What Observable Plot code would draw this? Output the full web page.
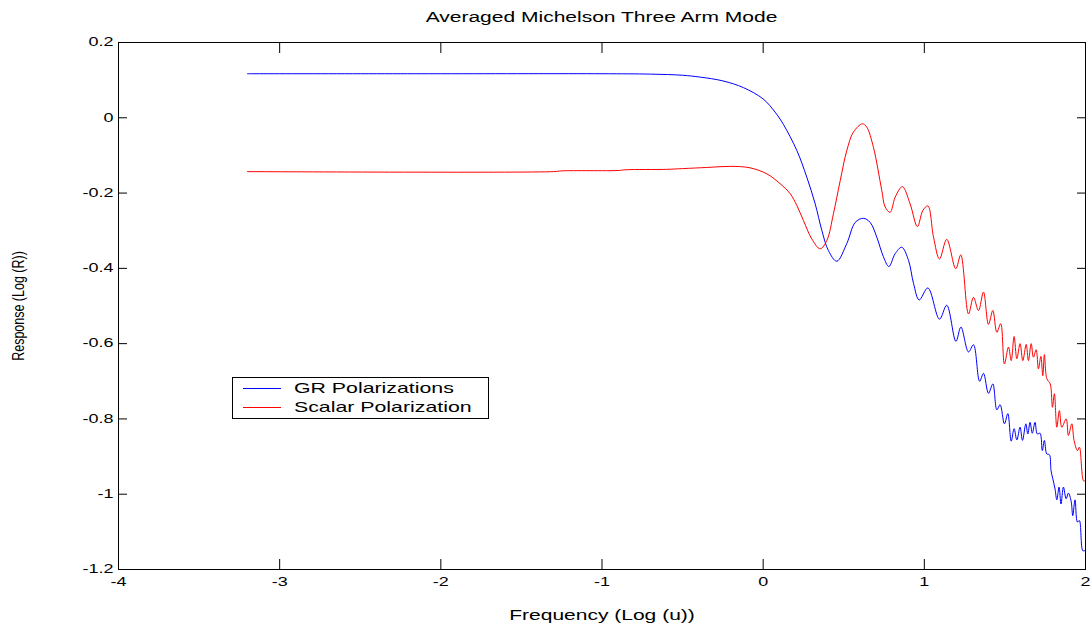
<!DOCTYPE html>
<html>
<head>
<meta charset="utf-8">
<script src="https://cdn.jsdelivr.net/npm/d3@7"></script>
<script src="https://cdn.jsdelivr.net/npm/@observablehq/plot@0.6"></script>
<style>
  body { margin: 0; background: #fff; font-family: "Liberation Sans", Arial, sans-serif; }
  #wrap { position: relative; width: 1092px; height: 626px; background: #fff; }
  #title { position: relative; height: 30px; }
  #title span { position: absolute; left: 118px; width: 967px; top: 9px; text-align: center;
    font-size: 14px; line-height: 16px; color: #000; display: block; transform: scaleX(1.5); transform-origin: 483.5px 0; }
  #legend { position: absolute; left: 232px; top: 377px; width: 255px; height: 40px; border: 1px solid #000; background: #fff; }
  .lg-row { position: absolute; left: 0; height: 18px; width: 255px; }
  .lg-line { position: absolute; left: 10px; width: 38px; top: 9px; height: 0; border-top: 1px solid; }
  .lg-text { position: absolute; left: 61px; top: 0; font-size: 15px; line-height: 18px; color: #000; white-space: nowrap; transform: scaleX(1.42); transform-origin: 0 0; }
</style>
</head>
<body>
<div id="wrap">
  <div id="title"><span>Averaged Michelson Three Arm Mode</span></div>
  <div id="chart"></div>
  <div id="legend"></div>
</div>
<script>
// ---- data ----
const xTicks = [-4, -3, -2, -1, 0, 1, 2];
const yTicks = [-1.2, -1, -0.8, -0.6, -0.4, -0.2, 0, 0.2];
const seriesNames = ["GR Polarizations", "Scalar Polarization"];
const seriesColors = ["#0000ff", "#ff0000"];
const xLabel = "Frequency (Log (u))";
const yLabel = "Response (Log (R))";

const grX = [-3.2, -2.0, -1.0, -0.7, -0.5, -0.39, -0.25, -0.122, 0.0, 0.074, 0.126, 0.209, 0.271, 0.323, 0.364, 0.405, 0.457, 0.519, 0.571, 0.622, 0.664, 0.705, 0.746, 0.78, 0.819, 0.86, 0.902, 0.933, 0.968, 1.022, 1.094, 1.139, 1.196, 1.227, 1.274, 1.305, 1.343, 1.367, 1.398, 1.425, 1.45, 1.47, 1.497, 1.518, 1.539, 1.557, 1.574, 1.594, 1.609, 1.63, 1.642, 1.656, 1.67, 1.687, 1.701, 1.718, 1.732, 1.745, 1.76, 1.776, 1.786, 1.797, 1.811, 1.822, 1.836, 1.848, 1.863, 1.88, 1.894, 1.911, 1.921, 1.935, 1.95, 1.962, 1.983, 1.995];
const grY = [0.117, 0.117, 0.117, 0.116, 0.113, 0.108, 0.098, 0.08, 0.05, 0.015, -0.018, -0.087, -0.158, -0.229, -0.299, -0.353, -0.381, -0.334, -0.278, -0.267, -0.278, -0.317, -0.369, -0.395, -0.361, -0.344, -0.379, -0.44, -0.484, -0.452, -0.535, -0.498, -0.594, -0.556, -0.622, -0.603, -0.7, -0.679, -0.732, -0.707, -0.776, -0.762, -0.813, -0.786, -0.859, -0.826, -0.856, -0.822, -0.857, -0.813, -0.84, -0.809, -0.838, -0.809, -0.84, -0.838, -0.884, -0.857, -0.893, -0.895, -0.937, -0.959, -0.986, -1.015, -0.981, -1.026, -0.981, -1.012, -0.997, -1.019, -1.057, -1.015, -1.074, -1.07, -1.15, -1.15];

const scX = [-3.2, -1.3, -1.25, -0.9, -0.85, -0.6, -0.5, -0.35, -0.2, -0.081, 0.023, 0.105, 0.168, 0.209, 0.25, 0.302, 0.354, 0.395, 0.436, 0.478, 0.519, 0.56, 0.616, 0.643, 0.684, 0.736, 0.757, 0.788, 0.819, 0.864, 0.912, 0.957, 0.991, 1.022, 1.057, 1.094, 1.139, 1.195, 1.226, 1.274, 1.305, 1.336, 1.367, 1.398, 1.425, 1.45, 1.474, 1.497, 1.522, 1.539, 1.557, 1.574, 1.594, 1.611, 1.632, 1.646, 1.663, 1.677, 1.694, 1.708, 1.723, 1.735, 1.745, 1.76, 1.781, 1.795, 1.807, 1.822, 1.838, 1.853, 1.88, 1.894, 1.915, 1.929, 1.95, 1.962, 1.987, 1.995];
const scY = [-0.143, -0.143, -0.141, -0.14, -0.138, -0.137, -0.135, -0.132, -0.129, -0.133, -0.149, -0.175, -0.202, -0.233, -0.273, -0.322, -0.348, -0.326, -0.255, -0.167, -0.087, -0.038, -0.016, -0.025, -0.078, -0.193, -0.237, -0.251, -0.211, -0.183, -0.229, -0.289, -0.246, -0.234, -0.317, -0.375, -0.323, -0.401, -0.364, -0.521, -0.477, -0.512, -0.463, -0.549, -0.512, -0.57, -0.547, -0.654, -0.609, -0.645, -0.581, -0.64, -0.6, -0.645, -0.602, -0.645, -0.6, -0.636, -0.616, -0.667, -0.634, -0.685, -0.629, -0.693, -0.707, -0.769, -0.733, -0.822, -0.778, -0.822, -0.8, -0.844, -0.813, -0.857, -0.884, -0.875, -0.964, -0.965];

// ---- build table ----
const rows = [
  ...grX.map((x, i) => ({x, y: grY[i], s: seriesNames[0]})),
  ...scX.map((x, i) => ({x, y: scY[i], s: seriesNames[1]}))
];
const fmt = d => String(+(+d).toFixed(1));

const chart = Plot.plot({
  width: 1092,
  height: 596,
  marginTop: 12,
  marginBottom: 57,
  marginLeft: 118,
  marginRight: 7,
  style: {fontFamily: '"Liberation Sans", Arial, sans-serif', fontSize: "12px", color: "#000", background: "#fff", overflow: "visible"},
  x: {domain: [xTicks[0], xTicks[xTicks.length - 1]]},
  y: {domain: [yTicks[0], yTicks[yTicks.length - 1]]},
  color: {domain: seriesNames, range: seriesColors},
  marks: [
    Plot.line(rows, {x: "x", y: "y", z: "s", stroke: "s", strokeWidth: 1, curve: "catmull-rom"}),
    Plot.frame({stroke: "#000", strokeWidth: 1}),
    Plot.axisX(xTicks, {anchor: "bottom", tickSize: 0, tickPadding: 8, tickFormat: fmt, fontSize: 12,
      label: xLabel, labelAnchor: "center", labelOffset: 50, labelArrow: "none"}),
    Plot.axisX(xTicks, {anchor: "bottom", tickSize: -10, fill: "none", label: null}),
    Plot.axisX(xTicks, {anchor: "top", tickSize: -10, fill: "none", label: null}),
    Plot.axisY(yTicks, {anchor: "left", tickSize: 0, tickPadding: 5, tickFormat: fmt, fontSize: 12,
      label: yLabel, labelAnchor: "center", labelOffset: 106, labelArrow: "none"}),
    Plot.axisY(yTicks, {anchor: "left", tickSize: -9, fill: "none", label: null}),
    Plot.axisY(yTicks, {anchor: "right", tickSize: -9, fill: "none", label: null})
  ]
});
document.getElementById("chart").append(chart);

// horizontally stretched lettering as in the reference
chart.querySelectorAll("text").forEach(t => {
  const g = t.closest("g[aria-label]");
  const lab = g ? g.getAttribute("aria-label") : "";
  if (lab === "y-axis label") {
    t.style.fontSize = "12.5px";
    t.setAttribute("transform", (t.getAttribute("transform") || "") + " scale(1,1.35)");
    return;
  }
  if (lab === "x-axis label") t.style.fontSize = "14px";
  const w = t.getComputedTextLength();
  if (w > 0) {
    t.setAttribute("textLength", (w * 1.5).toFixed(1));
    t.setAttribute("lengthAdjust", "spacingAndGlyphs");
  }
});

// legend
const legend = document.getElementById("legend");
seriesNames.forEach((name, i) => {
  const row = document.createElement("div");
  row.className = "lg-row";
  row.style.top = (1 + i * 19) + "px";
  const ln = document.createElement("div");
  ln.className = "lg-line";
  ln.style.borderTopColor = seriesColors[i];
  const tx = document.createElement("div");
  tx.className = "lg-text";
  tx.textContent = name;
  row.append(ln, tx);
  legend.append(row);
});
</script>
</body>
</html>
